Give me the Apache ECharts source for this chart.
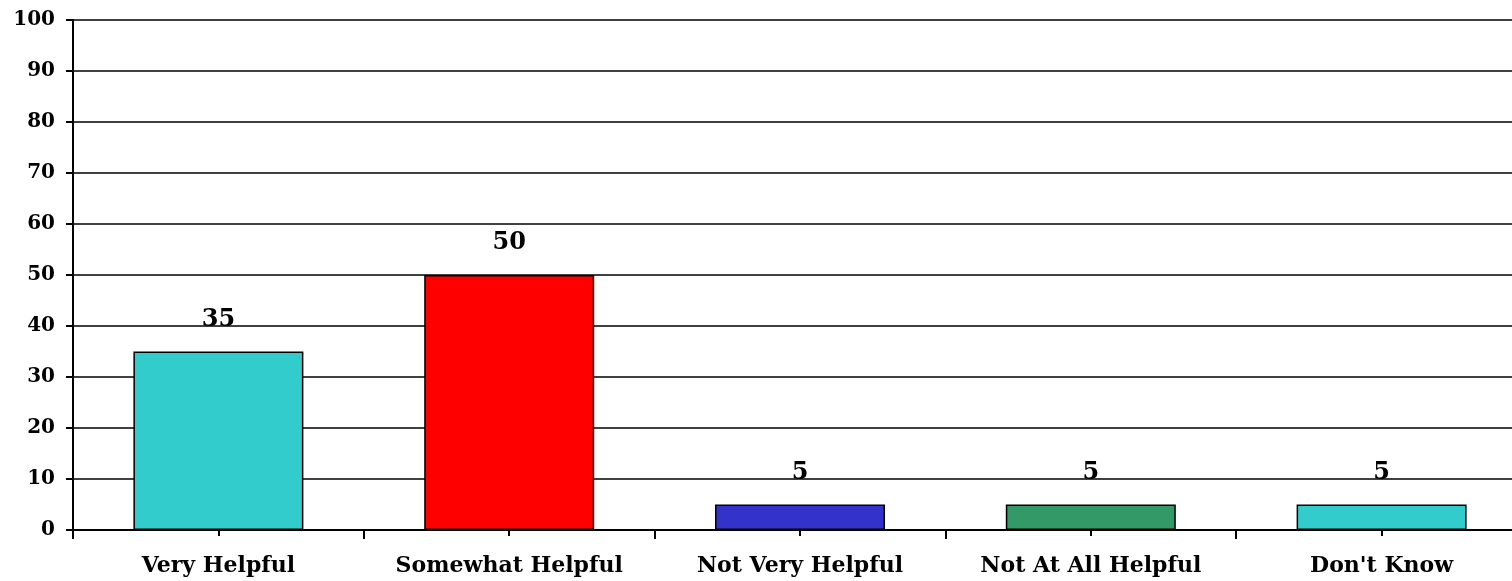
<!DOCTYPE html>
<html>
<head>
<meta charset="utf-8">
<script src="https://cdn.jsdelivr.net/npm/echarts@6/dist/echarts.min.js"></script>
<style>
html,body{margin:0;padding:0;background:#fff;overflow:hidden;width:1512px;height:581px;}
#chart{width:1528px;height:581px;}
</style>
</head>
<body>
<div id="chart"></div>
<script>
const categories = ["Very Helpful", "Somewhat Helpful", "Not Very Helpful", "Not At All Helpful", "Don't Know"];
const values = [35, 50, 5, 5, 5];
const barColors = ["#33CCCC", "#FF0000", "#3333CC", "#339966", "#33CCCC"];
const yTicks = [0, 10, 20, 30, 40, 50, 60, 70, 80, 90, 100];

const fontFamily = "'DejaVu Serif', serif";
const chart = echarts.init(document.getElementById('chart'), null, {renderer: 'canvas'});
chart.setOption({
  animation: false,
  backgroundColor: '#fff',
  grid: {left: 73, top: 20, right: 1, bottom: 51, containLabel: false},
  xAxis: [{
    type: 'category',
    data: categories,
    position: 'bottom',
    axisLine: {show: true, lineStyle: {color: '#000', width: 2}},
    axisTick: {show: true, alignWithLabel: false, length: 9, lineStyle: {color: '#000', width: 2}},
    axisLabel: {color: '#000', fontFamily: fontFamily, fontWeight: 'bold', fontSize: 22, margin: 25, interval: 0}
  }, {
    type: 'category',
    data: categories,
    position: 'bottom',
    axisLine: {show: false},
    axisTick: {show: true, alignWithLabel: true, length: 6, lineStyle: {color: '#000', width: 2}},
    axisLabel: {show: false}
  }],
  yAxis: {
    type: 'value',
    min: yTicks[0],
    max: yTicks[yTicks.length - 1],
    interval: 10,
    axisLine: {show: true, lineStyle: {color: '#000', width: 2}},
    axisTick: {show: true, length: 7, lineStyle: {color: '#000', width: 2}},
    axisLabel: {color: '#000', fontFamily: fontFamily, fontWeight: 'bold', fontSize: 20, margin: 18},
    splitLine: {show: true, lineStyle: {color: '#000', width: 1.5}}
  },
  series: [{
    type: 'bar',
    xAxisIndex: 0,
    data: values.map((v, i) => ({value: v, itemStyle: {color: barColors[i]}})),
    barWidth: 170,
    itemStyle: {borderColor: '#000', borderWidth: 1.5},
    label: {
      show: true, position: 'top', distance: 20,
      color: '#000', fontFamily: fontFamily, fontWeight: 'bold', fontSize: 24
    }
  }]
});
</script>
</body>
</html>
